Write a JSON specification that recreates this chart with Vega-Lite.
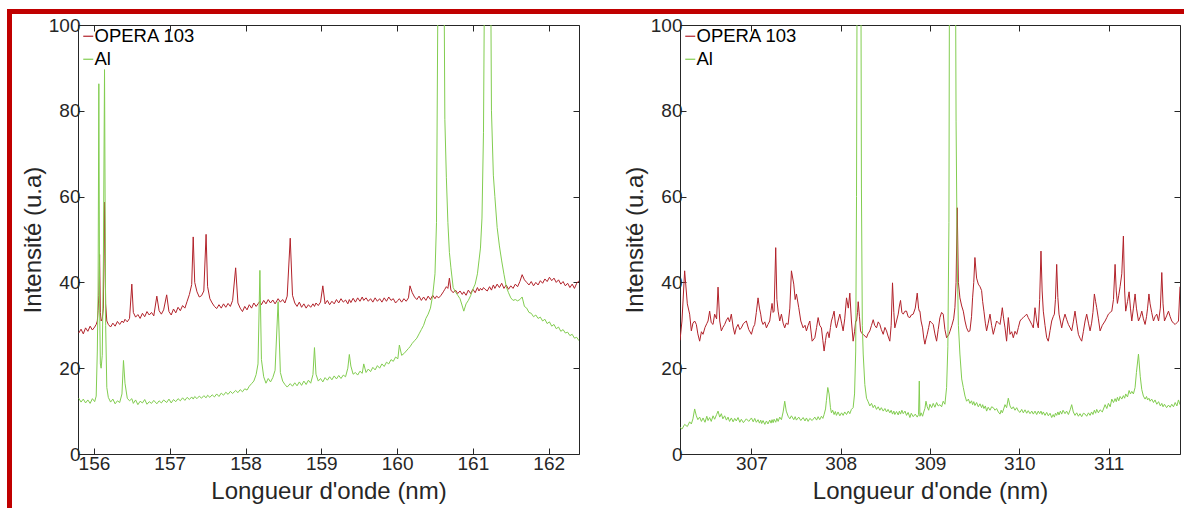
{
"$schema": "https://vega.github.io/schema/vega-lite/v6.json",
"padding": {"left": 7, "top": 9, "right": 0, "bottom": 0},
"background": "white",
"config": {
  "view": {"stroke": null},
  "font": "Liberation Sans",
  "axis": {"labelFont": "Liberation Sans", "titleFont": "Liberation Sans", "labelColor": "#262626", "titleColor": "#262626", "tickColor": "#262626", "domain": false, "grid": false, "labelFontSize": 19, "titleFontSize": 24, "titleFontWeight": "normal", "tickSize": -6, "labelPadding": 4, "labelFlush": false, "labelOverlap": false},
  "legend": {"labelFont": "Liberation Sans", "labelFontSize": 18.5, "labelColor": "#000000", "symbolType": "stroke", "symbolSize": 100, "symbolStrokeWidth": 1.2, "rowPadding": 4, "labelOffset": -3, "padding": 0, "title": null}
},
"datasets": {
"a": [
{"x":155.80,"o":28.2,"g":13.0},{"x":155.83,"o":29.1,"g":12.1},{"x":155.86,"o":28.0,"g":12.8},{"x":155.89,"o":29.4,"g":11.9},{"x":155.92,"o":28.6,"g":12.6},{"x":155.95,"o":29.8,"g":11.8},{"x":155.98,"o":28.9,"g":12.9},{"x":156.01,"o":29.6,"g":12.2},{"x":156.03,"o":30.2,"g":13.5},{"x":156.045,"o":31.0,"g":24.0},{"x":156.055,"o":33.5,"g":38.0},{"x":156.065,"o":37.0,"g":86.3},{"x":156.075,"o":46.5,"g":35.0},{"x":156.085,"o":33.0,"g":21.0},{"x":156.095,"o":31.0,"g":20.0},{"x":156.11,"o":31.5,"g":23.0},{"x":156.125,"o":34.0,"g":45.0},{"x":156.14,"o":58.7,"g":89.6},{"x":156.155,"o":35.0,"g":30.0},{"x":156.17,"o":31.0,"g":15.5},{"x":156.19,"o":30.2,"g":13.2},{"x":156.22,"o":29.6,"g":12.1},{"x":156.25,"o":30.5,"g":12.8},{"x":156.28,"o":29.8,"g":11.7},{"x":156.31,"o":30.9,"g":12.4},{"x":156.34,"o":30.2,"g":12.0},{"x":156.37,"o":31.0,"g":14.0},{"x":156.39,"o":30.6,"g":21.8},{"x":156.41,"o":31.4,"g":16.5},{"x":156.44,"o":30.8,"g":13.0},{"x":156.47,"o":31.6,"g":12.4},{"x":156.50,"o":39.6,"g":12.9},{"x":156.52,"o":33.0,"g":11.8},{"x":156.55,"o":31.9,"g":12.6},{"x":156.58,"o":32.5,"g":11.5},{"x":156.61,"o":31.6,"g":12.3},{"x":156.64,"o":32.8,"g":11.9},{"x":156.67,"o":32.0,"g":12.7},{"x":156.70,"o":33.2,"g":11.6},{"x":156.73,"o":32.4,"g":12.2},{"x":156.76,"o":33.0,"g":11.8},{"x":156.79,"o":32.2,"g":12.5},{"x":156.83,"o":36.8,"g":11.7},{"x":156.86,"o":33.4,"g":12.4},{"x":156.89,"o":32.6,"g":11.9},{"x":156.92,"o":33.6,"g":12.6},{"x":156.96,"o":37.1,"g":12.0},{"x":156.99,"o":33.2,"g":12.8},{"x":157.02,"o":32.4,"g":11.9},{"x":157.05,"o":33.8,"g":12.7},{"x":157.08,"o":32.9,"g":12.2},{"x":157.11,"o":34.2,"g":12.9},{"x":157.14,"o":33.4,"g":12.4},{"x":157.17,"o":34.6,"g":13.1},{"x":157.20,"o":34.0,"g":12.5},{"x":157.23,"o":35.6,"g":13.2},{"x":157.26,"o":37.2,"g":12.7},{"x":157.29,"o":39.5,"g":13.3},{"x":157.31,"o":50.6,"g":12.8},{"x":157.33,"o":40.0,"g":13.4},{"x":157.36,"o":37.8,"g":12.9},{"x":157.39,"o":36.6,"g":13.5},{"x":157.42,"o":36.9,"g":13.0},{"x":157.45,"o":38.0,"g":13.6},{"x":157.48,"o":51.2,"g":13.1},{"x":157.50,"o":39.0,"g":13.7},{"x":157.53,"o":36.2,"g":13.2},{"x":157.56,"o":35.2,"g":13.8},{"x":157.59,"o":34.4,"g":13.3},{"x":157.62,"o":33.9,"g":14.0},{"x":157.65,"o":34.8,"g":13.4},{"x":157.68,"o":34.0,"g":14.2},{"x":157.71,"o":35.0,"g":13.7},{"x":157.74,"o":34.2,"g":14.4},{"x":157.77,"o":35.1,"g":13.9},{"x":157.80,"o":34.4,"g":14.6},{"x":157.83,"o":35.8,"g":14.1},{"x":157.87,"o":43.4,"g":14.8},{"x":157.90,"o":35.2,"g":14.3},{"x":157.93,"o":34.0,"g":15.0},{"x":157.96,"o":33.2,"g":14.5},{"x":157.99,"o":34.4,"g":15.2},{"x":158.02,"o":33.6,"g":14.9},{"x":158.05,"o":34.8,"g":15.8},{"x":158.08,"o":34.0,"g":16.4},{"x":158.11,"o":35.2,"g":17.0},{"x":158.14,"o":34.4,"g":18.5},{"x":158.165,"o":35.0,"g":21.0},{"x":158.19,"o":35.6,"g":42.8},{"x":158.21,"o":34.8,"g":22.0},{"x":158.24,"o":35.8,"g":18.0},{"x":158.27,"o":35.0,"g":16.5},{"x":158.30,"o":36.0,"g":17.6},{"x":158.33,"o":35.2,"g":16.8},{"x":158.36,"o":35.9,"g":17.8},{"x":158.39,"o":35.0,"g":19.5},{"x":158.43,"o":36.2,"g":35.5},{"x":158.46,"o":35.4,"g":19.0},{"x":158.49,"o":36.0,"g":17.0},{"x":158.52,"o":35.2,"g":16.2},{"x":158.55,"o":36.8,"g":15.6},{"x":158.59,"o":50.3,"g":16.4},{"x":158.62,"o":37.0,"g":15.8},{"x":158.65,"o":35.2,"g":16.6},{"x":158.68,"o":34.4,"g":15.9},{"x":158.71,"o":35.4,"g":16.8},{"x":158.74,"o":34.2,"g":16.0},{"x":158.77,"o":35.0,"g":17.0},{"x":158.80,"o":34.0,"g":16.2},{"x":158.83,"o":34.8,"g":17.2},{"x":158.86,"o":34.2,"g":16.5},{"x":158.89,"o":35.0,"g":18.5},{"x":158.91,"o":34.4,"g":24.8},{"x":158.93,"o":35.2,"g":18.6},{"x":158.96,"o":34.6,"g":17.0},{"x":158.99,"o":35.4,"g":17.6},{"x":159.02,"o":39.2,"g":16.8},{"x":159.05,"o":35.0,"g":17.8},{"x":159.08,"o":35.8,"g":17.2},{"x":159.11,"o":34.8,"g":18.0},{"x":159.14,"o":35.6,"g":17.3},{"x":159.17,"o":35.0,"g":18.2},{"x":159.20,"o":36.0,"g":17.5},{"x":159.23,"o":35.2,"g":18.3},{"x":159.26,"o":36.2,"g":17.6},{"x":159.29,"o":35.4,"g":18.4},{"x":159.32,"o":35.9,"g":18.0},{"x":159.35,"o":35.0,"g":20.0},{"x":159.37,"o":36.0,"g":23.2},{"x":159.39,"o":35.3,"g":20.5},{"x":159.42,"o":36.3,"g":18.6},{"x":159.45,"o":35.4,"g":19.0},{"x":159.48,"o":36.4,"g":18.4},{"x":159.51,"o":35.6,"g":19.3},{"x":159.54,"o":36.6,"g":18.8},{"x":159.56,"o":35.8,"g":21.0},{"x":159.59,"o":36.4,"g":19.0},{"x":159.62,"o":35.6,"g":19.8},{"x":159.65,"o":36.2,"g":19.2},{"x":159.68,"o":35.4,"g":20.2},{"x":159.71,"o":36.4,"g":19.6},{"x":159.74,"o":35.6,"g":20.6},{"x":159.77,"o":36.2,"g":20.0},{"x":159.80,"o":35.4,"g":21.0},{"x":159.83,"o":36.4,"g":20.4},{"x":159.86,"o":35.6,"g":21.4},{"x":159.89,"o":36.6,"g":21.0},{"x":159.92,"o":35.8,"g":22.0},{"x":159.95,"o":36.2,"g":21.6},{"x":159.98,"o":35.2,"g":22.6},{"x":160.01,"o":35.8,"g":22.2},{"x":160.03,"o":36.2,"g":25.4},{"x":160.06,"o":35.4,"g":23.0},{"x":160.09,"o":36.2,"g":23.4},{"x":160.12,"o":35.6,"g":24.0},{"x":160.15,"o":36.4,"g":24.6},{"x":160.17,"o":39.2,"g":25.0},{"x":160.20,"o":37.6,"g":25.8},{"x":160.23,"o":36.6,"g":26.4},{"x":160.26,"o":36.0,"g":27.0},{"x":160.29,"o":36.8,"g":28.0},{"x":160.32,"o":35.8,"g":29.0},{"x":160.35,"o":36.6,"g":30.0},{"x":160.38,"o":35.8,"g":31.6},{"x":160.41,"o":36.8,"g":32.6},{"x":160.44,"o":36.0,"g":34.0},{"x":160.47,"o":37.0,"g":37.0},{"x":160.50,"o":36.2,"g":42.0},{"x":160.52,"o":36.8,"g":54.0},{"x":160.55,"o":36.4,"g":140},{"x":160.58,"o":37.0,"g":180},{"x":160.61,"o":37.8,"g":140},{"x":160.63,"o":38.4,"g":78.0},{"x":160.65,"o":39.0,"g":64.4},{"x":160.67,"o":38.6,"g":54.0},{"x":160.69,"o":41.0,"g":47.0},{"x":160.71,"o":38.2,"g":43.4},{"x":160.74,"o":37.6,"g":38.8},{"x":160.77,"o":38.2,"g":37.8},{"x":160.80,"o":37.4,"g":37.0},{"x":160.83,"o":38.0,"g":36.2},{"x":160.86,"o":37.2,"g":34.5},{"x":160.88,"o":37.8,"g":33.3},{"x":160.91,"o":37.0,"g":35.0},{"x":160.94,"o":38.2,"g":35.8},{"x":160.97,"o":37.4,"g":36.9},{"x":161.00,"o":38.4,"g":38.4},{"x":161.03,"o":37.6,"g":39.6},{"x":161.06,"o":38.8,"g":42.0},{"x":161.08,"o":38.0,"g":45.0},{"x":161.10,"o":38.6,"g":48.0},{"x":161.12,"o":38.2,"g":55.0},{"x":161.14,"o":38.8,"g":75.0},{"x":161.16,"o":38.4,"g":130},{"x":161.19,"o":38.0,"g":180},{"x":161.22,"o":39.0,"g":160},{"x":161.245,"o":38.2,"g":80.0},{"x":161.27,"o":39.4,"g":65.0},{"x":161.29,"o":38.6,"g":60.0},{"x":161.32,"o":39.6,"g":52.8},{"x":161.35,"o":38.8,"g":48.5},{"x":161.38,"o":39.8,"g":45.0},{"x":161.41,"o":38.6,"g":41.9},{"x":161.44,"o":39.4,"g":39.0},{"x":161.47,"o":38.4,"g":37.6},{"x":161.50,"o":39.2,"g":36.4},{"x":161.53,"o":38.6,"g":35.8},{"x":161.56,"o":39.6,"g":36.0},{"x":161.59,"o":39.0,"g":35.7},{"x":161.62,"o":40.2,"g":36.0},{"x":161.65,"o":41.8,"g":36.6},{"x":161.68,"o":40.6,"g":34.4},{"x":161.71,"o":40.0,"g":34.0},{"x":161.74,"o":39.4,"g":33.0},{"x":161.77,"o":40.2,"g":32.8},{"x":161.80,"o":39.2,"g":32.0},{"x":161.83,"o":40.0,"g":32.4},{"x":161.86,"o":39.4,"g":31.6},{"x":161.89,"o":40.4,"g":31.9},{"x":161.92,"o":39.8,"g":31.0},{"x":161.95,"o":40.8,"g":31.4},{"x":161.98,"o":40.2,"g":30.4},{"x":162.01,"o":41.2,"g":30.8},{"x":162.04,"o":40.4,"g":29.8},{"x":162.07,"o":41.0,"g":30.2},{"x":162.10,"o":40.0,"g":29.2},{"x":162.13,"o":40.6,"g":29.6},{"x":162.16,"o":39.6,"g":28.6},{"x":162.19,"o":40.2,"g":29.0},{"x":162.22,"o":39.2,"g":28.2},{"x":162.25,"o":39.8,"g":28.4},{"x":162.28,"o":38.8,"g":27.6},{"x":162.31,"o":39.6,"g":27.9},{"x":162.34,"o":38.6,"g":27.0},{"x":162.37,"o":39.8,"g":27.2},{"x":162.40,"o":40.4,"g":26.4}
],
"b": [
{"x":306.20,"o":26.5,"g":6.2},{"x":306.222,"o":31.0,"g":5.8},{"x":306.252,"o":42.7,"g":6.9},{"x":306.282,"o":35.0,"g":6.4},{"x":306.308,"o":32.6,"g":7.5},{"x":306.327,"o":28.7,"g":7.0},{"x":306.345,"o":30.5,"g":8.2},{"x":306.364,"o":31.0,"g":10.5},{"x":306.383,"o":30.2,"g":8.9},{"x":306.40,"o":28.0,"g":8.0},{"x":306.42,"o":26.3,"g":8.6},{"x":306.44,"o":28.5,"g":7.6},{"x":306.458,"o":27.9,"g":8.4},{"x":306.48,"o":29.5,"g":7.4},{"x":306.50,"o":30.4,"g":8.8},{"x":306.514,"o":31.0,"g":7.8},{"x":306.532,"o":33.3,"g":8.5},{"x":306.55,"o":30.6,"g":7.6},{"x":306.57,"o":30.2,"g":8.9},{"x":306.588,"o":32.6,"g":8.1},{"x":306.61,"o":31.5,"g":9.2},{"x":306.626,"o":38.9,"g":10.0},{"x":306.645,"o":31.0,"g":8.6},{"x":306.663,"o":28.7,"g":9.4},{"x":306.68,"o":29.5,"g":8.2},{"x":306.70,"o":30.2,"g":8.9},{"x":306.72,"o":31.2,"g":7.9},{"x":306.738,"o":31.8,"g":8.6},{"x":306.755,"o":30.8,"g":7.6},{"x":306.775,"o":32.6,"g":8.4},{"x":306.795,"o":29.6,"g":7.5},{"x":306.813,"o":27.9,"g":8.3},{"x":306.83,"o":29.4,"g":7.7},{"x":306.85,"o":30.2,"g":8.5},{"x":306.87,"o":29.0,"g":7.4},{"x":306.887,"o":29.4,"g":8.1},{"x":306.91,"o":30.4,"g":7.3},{"x":306.943,"o":31.0,"g":8.2},{"x":306.97,"o":29.0,"g":7.6},{"x":307.00,"o":27.9,"g":8.4},{"x":307.02,"o":29.5,"g":7.5},{"x":307.037,"o":30.2,"g":8.3},{"x":307.055,"o":33.0,"g":7.4},{"x":307.074,"o":36.4,"g":8.0},{"x":307.09,"o":34.0,"g":7.2},{"x":307.104,"o":32.6,"g":7.9},{"x":307.115,"o":31.0,"g":7.1},{"x":307.13,"o":30.2,"g":7.8},{"x":307.15,"o":30.8,"g":6.9},{"x":307.168,"o":29.4,"g":7.7},{"x":307.185,"o":30.2,"g":7.0},{"x":307.205,"o":31.0,"g":7.9},{"x":307.22,"o":33.5,"g":7.2},{"x":307.231,"o":35.1,"g":8.0},{"x":307.243,"o":33.0,"g":7.3},{"x":307.254,"o":33.3,"g":8.1},{"x":307.272,"o":48.1,"g":7.4},{"x":307.285,"o":36.0,"g":8.3},{"x":307.299,"o":33.3,"g":7.6},{"x":307.317,"o":31.0,"g":8.6},{"x":307.336,"o":32.6,"g":8.0},{"x":307.355,"o":30.5,"g":9.8},{"x":307.373,"o":29.4,"g":12.3},{"x":307.39,"o":30.5,"g":10.0},{"x":307.411,"o":30.2,"g":8.8},{"x":307.43,"o":34.0,"g":8.2},{"x":307.448,"o":42.7,"g":8.9},{"x":307.474,"o":39.6,"g":8.0},{"x":307.49,"o":36.0,"g":8.7},{"x":307.504,"o":37.3,"g":7.9},{"x":307.53,"o":34.1,"g":8.6},{"x":307.553,"o":31.0,"g":7.8},{"x":307.579,"o":29.4,"g":8.5},{"x":307.60,"o":30.0,"g":7.7},{"x":307.616,"o":28.7,"g":8.4},{"x":307.635,"o":30.0,"g":7.6},{"x":307.654,"o":31.0,"g":8.3},{"x":307.68,"o":26.3,"g":7.8},{"x":307.71,"o":27.1,"g":8.6},{"x":307.73,"o":29.5,"g":7.9},{"x":307.747,"o":31.8,"g":8.7},{"x":307.765,"o":30.0,"g":8.0},{"x":307.784,"o":29.4,"g":8.8},{"x":307.80,"o":26.5,"g":8.3},{"x":307.814,"o":24.0,"g":9.2},{"x":307.83,"o":26.5,"g":10.5},{"x":307.84,"o":27.9,"g":12.5},{"x":307.855,"o":28.5,"g":15.5},{"x":307.87,"o":27.1,"g":14.0},{"x":307.885,"o":29.5,"g":10.8},{"x":307.896,"o":31.0,"g":9.6},{"x":307.91,"o":32.0,"g":10.2},{"x":307.926,"o":33.3,"g":9.2},{"x":307.94,"o":30.5,"g":9.9},{"x":307.952,"o":29.4,"g":9.0},{"x":307.97,"o":31.0,"g":9.8},{"x":307.99,"o":32.6,"g":8.9},{"x":308.01,"o":30.5,"g":9.6},{"x":308.027,"o":28.7,"g":9.0},{"x":308.045,"o":31.5,"g":9.8},{"x":308.065,"o":36.4,"g":9.2},{"x":308.085,"o":34.0,"g":10.0},{"x":308.102,"o":37.5,"g":9.4},{"x":308.12,"o":31.0,"g":10.4},{"x":308.139,"o":26.3,"g":10.8},{"x":308.155,"o":28.5,"g":14.0},{"x":308.168,"o":31.0,"g":24.0},{"x":308.177,"o":31.0,"g":60.0},{"x":308.188,"o":33.0,"g":150},{"x":308.196,"o":35.5,"g":200},{"x":308.21,"o":32.0,"g":200},{"x":308.222,"o":28.7,"g":150},{"x":308.232,"o":28.3,"g":62.0},{"x":308.242,"o":28.0,"g":30.0},{"x":308.252,"o":27.9,"g":23.3},{"x":308.27,"o":27.5,"g":16.2},{"x":308.289,"o":27.1,"g":13.0},{"x":308.305,"o":28.0,"g":12.3},{"x":308.326,"o":28.7,"g":11.2},{"x":308.345,"o":30.0,"g":11.8},{"x":308.364,"o":31.3,"g":10.8},{"x":308.38,"o":30.0,"g":11.4},{"x":308.401,"o":29.4,"g":10.4},{"x":308.42,"o":30.8,"g":11.0},{"x":308.438,"o":30.2,"g":10.2},{"x":308.455,"o":29.0,"g":10.8},{"x":308.476,"o":27.9,"g":10.0},{"x":308.495,"o":29.5,"g":10.6},{"x":308.513,"o":28.7,"g":9.8},{"x":308.53,"o":27.5,"g":10.4},{"x":308.55,"o":26.3,"g":9.6},{"x":308.565,"o":30.0,"g":10.2},{"x":308.58,"o":39.9,"g":9.3},{"x":308.595,"o":33.0,"g":10.0},{"x":308.606,"o":29.4,"g":9.2},{"x":308.625,"o":31.0,"g":9.9},{"x":308.644,"o":32.6,"g":9.1},{"x":308.657,"o":34.5,"g":10.0},{"x":308.67,"o":35.8,"g":9.3},{"x":308.685,"o":33.0,"g":10.2},{"x":308.70,"o":32.6,"g":9.4},{"x":308.72,"o":33.3,"g":10.0},{"x":308.737,"o":33.3,"g":9.0},{"x":308.755,"o":32.0,"g":9.7},{"x":308.775,"o":31.8,"g":8.5},{"x":308.79,"o":32.4,"g":9.5},{"x":308.812,"o":32.6,"g":8.7},{"x":308.835,"o":34.0,"g":9.3},{"x":308.857,"o":37.5,"g":8.6},{"x":308.872,"o":34.0,"g":9.2},{"x":308.88,"o":33.3,"g":17.0},{"x":308.887,"o":33.3,"g":8.8},{"x":308.90,"o":31.0,"g":9.6},{"x":308.917,"o":29.4,"g":8.8},{"x":308.93,"o":27.0,"g":9.8},{"x":308.943,"o":25.6,"g":10.6},{"x":308.955,"o":26.8,"g":12.3},{"x":308.969,"o":27.9,"g":11.0},{"x":308.985,"o":29.5,"g":10.2},{"x":308.999,"o":31.0,"g":11.6},{"x":309.018,"o":30.6,"g":10.8},{"x":309.036,"o":30.2,"g":11.8},{"x":309.055,"o":28.0,"g":10.9},{"x":309.074,"o":26.3,"g":12.0},{"x":309.092,"o":29.0,"g":11.2},{"x":309.111,"o":31.8,"g":11.5},{"x":309.13,"o":33.0,"g":11.0},{"x":309.148,"o":32.6,"g":12.3},{"x":309.167,"o":29.0,"g":11.6},{"x":309.186,"o":27.1,"g":15.5},{"x":309.20,"o":27.5,"g":25.0},{"x":309.212,"o":27.9,"g":54.0},{"x":309.222,"o":28.5,"g":150},{"x":309.245,"o":30.0,"g":200},{"x":309.265,"o":31.5,"g":200},{"x":309.279,"o":34.1,"g":150},{"x":309.292,"o":40.0,"g":77.6},{"x":309.305,"o":57.4,"g":45.0},{"x":309.318,"o":40.0,"g":30.0},{"x":309.335,"o":36.4,"g":23.3},{"x":309.355,"o":34.5,"g":17.5},{"x":309.373,"o":33.3,"g":15.5},{"x":309.392,"o":31.0,"g":13.5},{"x":309.41,"o":29.4,"g":12.3},{"x":309.43,"o":28.5,"g":12.8},{"x":309.447,"o":28.7,"g":11.8},{"x":309.465,"o":32.0,"g":12.4},{"x":309.477,"o":36.4,"g":11.5},{"x":309.49,"o":40.0,"g":12.2},{"x":309.503,"o":45.8,"g":11.3},{"x":309.522,"o":41.0,"g":12.0},{"x":309.541,"o":39.6,"g":11.0},{"x":309.56,"o":39.0,"g":11.7},{"x":309.578,"o":38.1,"g":10.8},{"x":309.59,"o":35.5,"g":11.5},{"x":309.604,"o":33.3,"g":10.6},{"x":309.62,"o":30.5,"g":11.2},{"x":309.634,"o":28.7,"g":10.0},{"x":309.652,"o":30.5,"g":10.9},{"x":309.672,"o":32.6,"g":10.2},{"x":309.69,"o":30.0,"g":11.0},{"x":309.709,"o":27.9,"g":10.8},{"x":309.728,"o":29.5,"g":10.2},{"x":309.746,"o":31.0,"g":10.6},{"x":309.765,"o":30.6,"g":9.8},{"x":309.784,"o":30.2,"g":9.3},{"x":309.797,"o":32.0,"g":10.2},{"x":309.81,"o":34.1,"g":9.6},{"x":309.825,"o":31.5,"g":10.5},{"x":309.84,"o":29.4,"g":11.5},{"x":309.858,"o":26.3,"g":10.8},{"x":309.877,"o":31.8,"g":13.0},{"x":309.896,"o":27.9,"g":11.2},{"x":309.915,"o":28.5,"g":10.5},{"x":309.933,"o":27.1,"g":11.0},{"x":309.952,"o":28.6,"g":10.2},{"x":309.971,"o":27.9,"g":10.8},{"x":309.99,"o":29.5,"g":10.0},{"x":310.008,"o":31.0,"g":9.7},{"x":310.027,"o":31.5,"g":10.4},{"x":310.045,"o":31.8,"g":9.6},{"x":310.064,"o":32.2,"g":10.3},{"x":310.083,"o":32.6,"g":9.5},{"x":310.10,"o":31.8,"g":10.1},{"x":310.12,"o":31.0,"g":9.4},{"x":310.14,"o":30.2,"g":10.0},{"x":310.157,"o":29.4,"g":9.3},{"x":310.176,"o":34.1,"g":10.0},{"x":310.195,"o":31.0,"g":9.2},{"x":310.213,"o":29.4,"g":10.0},{"x":310.228,"o":36.0,"g":9.4},{"x":310.243,"o":47.3,"g":10.0},{"x":310.256,"o":38.0,"g":9.2},{"x":310.269,"o":33.3,"g":9.8},{"x":310.288,"o":30.0,"g":9.0},{"x":310.307,"o":27.1,"g":9.7},{"x":310.325,"o":26.3,"g":8.9},{"x":310.345,"o":28.8,"g":9.5},{"x":310.363,"o":31.0,"g":8.5},{"x":310.38,"o":32.0,"g":9.2},{"x":310.393,"o":32.6,"g":8.6},{"x":310.405,"o":36.0,"g":9.5},{"x":310.419,"o":44.2,"g":9.0},{"x":310.432,"o":36.5,"g":9.8},{"x":310.445,"o":32.6,"g":9.1},{"x":310.46,"o":31.0,"g":10.0},{"x":310.475,"o":29.4,"g":9.3},{"x":310.49,"o":31.0,"g":10.2},{"x":310.512,"o":32.6,"g":9.4},{"x":310.53,"o":31.4,"g":10.0},{"x":310.55,"o":30.2,"g":9.2},{"x":310.57,"o":29.4,"g":10.3},{"x":310.587,"o":28.7,"g":11.5},{"x":310.605,"o":30.8,"g":9.8},{"x":310.624,"o":33.3,"g":9.0},{"x":310.643,"o":30.5,"g":9.6},{"x":310.662,"o":27.9,"g":8.8},{"x":310.68,"o":27.0,"g":9.4},{"x":310.699,"o":26.3,"g":8.7},{"x":310.718,"o":28.6,"g":9.5},{"x":310.737,"o":31.0,"g":9.3},{"x":310.755,"o":32.6,"g":8.8},{"x":310.775,"o":30.5,"g":9.6},{"x":310.793,"o":28.7,"g":9.0},{"x":310.81,"o":30.5,"g":9.8},{"x":310.825,"o":33.0,"g":9.2},{"x":310.841,"o":37.3,"g":10.2},{"x":310.855,"o":35.5,"g":9.5},{"x":310.867,"o":34.1,"g":10.4},{"x":310.886,"o":31.5,"g":9.6},{"x":310.905,"o":28.7,"g":10.3},{"x":310.93,"o":30.0,"g":9.8},{"x":310.961,"o":31.0,"g":11.5},{"x":310.98,"o":31.8,"g":10.6},{"x":310.998,"o":32.6,"g":11.8},{"x":311.018,"o":33.0,"g":11.0},{"x":311.036,"o":33.3,"g":12.8},{"x":311.055,"o":36.0,"g":12.0},{"x":311.073,"o":44.2,"g":12.9},{"x":311.086,"o":38.0,"g":12.2},{"x":311.099,"o":35.1,"g":13.2},{"x":311.114,"o":37.0,"g":12.4},{"x":311.129,"o":39.0,"g":13.4},{"x":311.148,"o":42.0,"g":12.8},{"x":311.166,"o":50.8,"g":13.6},{"x":311.18,"o":38.0,"g":13.0},{"x":311.192,"o":33.3,"g":14.0},{"x":311.212,"o":35.5,"g":13.3},{"x":311.23,"o":37.8,"g":14.8},{"x":311.245,"o":34.0,"g":14.0},{"x":311.26,"o":31.0,"g":14.6},{"x":311.278,"o":34.0,"g":14.0},{"x":311.297,"o":37.3,"g":15.5},{"x":311.312,"o":34.0,"g":19.0},{"x":311.335,"o":31.0,"g":23.3},{"x":311.355,"o":32.0,"g":18.0},{"x":311.372,"o":33.3,"g":15.0},{"x":311.39,"o":31.5,"g":13.5},{"x":311.409,"o":30.2,"g":12.8},{"x":311.425,"o":32.0,"g":13.4},{"x":311.437,"o":34.0,"g":12.6},{"x":311.452,"o":37.3,"g":13.0},{"x":311.465,"o":35.0,"g":12.3},{"x":311.483,"o":33.0,"g":12.8},{"x":311.503,"o":31.0,"g":12.0},{"x":311.52,"o":32.0,"g":12.6},{"x":311.54,"o":32.6,"g":11.6},{"x":311.56,"o":31.0,"g":12.2},{"x":311.58,"o":34.0,"g":11.2},{"x":311.596,"o":42.3,"g":11.8},{"x":311.61,"o":35.0,"g":11.0},{"x":311.626,"o":31.0,"g":11.6},{"x":311.65,"o":32.2,"g":10.8},{"x":311.671,"o":33.3,"g":11.4},{"x":311.69,"o":32.0,"g":10.9},{"x":311.708,"o":31.0,"g":11.6},{"x":311.727,"o":30.5,"g":11.0},{"x":311.746,"o":30.2,"g":12.0},{"x":311.765,"o":30.6,"g":11.2},{"x":311.783,"o":31.0,"g":12.6},{"x":311.80,"o":39.0,"g":11.5}
]
},
"spacing": 0,
"resolve": {"scale": {"color": "independent"}, "legend": {"color": "independent"}},
"hconcat": [
  {"width": 5, "height": 499, "view": {"fill": "#c00000", "stroke": null}, "data": {"values": []}, "mark": "point"},
  {"spacing": 1, "resolve": {"scale": {"color": "independent"}, "legend": {"color": "independent"}}, "vconcat": [
    {"width": 1172, "height": 5, "view": {"fill": "#c00000", "stroke": null}, "data": {"values": []}, "mark": "point"},
    {"spacing": 8, "resolve": {"scale": {"color": "independent"}, "legend": {"color": "independent"}}, "hconcat": [
      {"width": 1, "height": 429, "data": {"values": []}, "mark": "point"},
      {"spacing": 43, "resolve": {"scale": {"color": "independent"}, "legend": {"color": "independent"}}, "hconcat": [
        {"width": 501, "height": 429, "view": {"stroke": "#262626", "strokeWidth": 1},
         "resolve": {"axis": {"x": "independent", "y": "independent"}},
         "layer": [
          {"data": {"name": "a"},
           "transform": [{"fold": ["o", "g"], "as": ["k", "v"]}],
           "mark": {"type": "line", "clip": true, "strokeWidth": 1},
           "encoding": {
             "x": {"field": "x", "type": "quantitative", "scale": {"domain": [155.79, 162.4], "nice": false, "zero": false},
                   "axis": {"orient": "bottom", "values": [156,157,158,159,160,161,162], "format": "d", "title": "Longueur d'onde (nm)", "labelPadding": 6, "titlePadding": 6}},
             "y": {"field": "v", "type": "quantitative", "scale": {"domain": [0, 100], "nice": false},
                   "axis": {"orient": "left", "values": [0,20,40,60,80,100], "title": "Intensité (u.a)", "titlePadding": 2.5}},
             "color": {"field": "k", "type": "nominal", "scale": {"domain": ["o", "g"], "range": ["#b2222a", "#82cd50"]},
                       "legend": {"orient": "none", "legendX": 1, "legendY": 2, "labelExpr": "datum.label == 'o' ? 'OPERA 103' : 'Al'"}}
           }},
          {"mark": {"type": "text", "fontSize": 24, "font": "Liberation Sans", "color": "#000000", "align": "center", "baseline": "middle"},
           "encoding": {
             "x": {"datum": 161.73, "type": "quantitative", "scale": {"domain": [155.79, 162.4], "nice": false, "zero": false},
                   "axis": {"orient": "top", "values": [156,157,158,159,160,161,162], "labels": false, "title": null}},
             "y": {"datum": 94.6, "type": "quantitative", "scale": {"domain": [0, 100], "nice": false},
                   "axis": {"orient": "right", "values": [0,20,40,60,80,100], "labels": false, "title": null}},
             "text": {"value": "a)"}
           }}
         ]},
        {"width": 500, "height": 429, "view": {"stroke": "#262626", "strokeWidth": 1},
         "resolve": {"axis": {"x": "independent", "y": "independent"}},
         "layer": [
          {"data": {"name": "b"},
           "transform": [{"fold": ["o", "g"], "as": ["k", "v"]}],
           "mark": {"type": "line", "clip": true, "strokeWidth": 1},
           "encoding": {
             "x": {"field": "x", "type": "quantitative", "scale": {"domain": [306.2, 311.8], "nice": false, "zero": false},
                   "axis": {"orient": "bottom", "values": [307,308,309,310,311], "format": "d", "title": "Longueur d'onde (nm)", "labelPadding": 6, "titlePadding": 6}},
             "y": {"field": "v", "type": "quantitative", "scale": {"domain": [0, 100], "nice": false},
                   "axis": {"orient": "left", "values": [0,20,40,60,80,100], "title": "Intensité (u.a)", "titlePadding": 2.5}},
             "color": {"field": "k", "type": "nominal", "scale": {"domain": ["o", "g"], "range": ["#b2222a", "#82cd50"]},
                       "legend": {"orient": "none", "legendX": 1, "legendY": 2, "labelExpr": "datum.label == 'o' ? 'OPERA 103' : 'Al'"}}
           }},
          {"mark": {"type": "text", "fontSize": 24, "font": "Liberation Sans", "color": "#000000", "align": "center", "baseline": "middle"},
           "encoding": {
             "x": {"datum": 311.32, "type": "quantitative", "scale": {"domain": [306.2, 311.8], "nice": false, "zero": false},
                   "axis": {"orient": "top", "values": [307,308,309,310,311], "labels": false, "title": null}},
             "y": {"datum": 94.6, "type": "quantitative", "scale": {"domain": [0, 100], "nice": false},
                   "axis": {"orient": "right", "values": [0,20,40,60,80,100], "labels": false, "title": null}},
             "text": {"value": "b)"}
           }}
         ]}
      ]}
    ]}
  ]}
]
}
